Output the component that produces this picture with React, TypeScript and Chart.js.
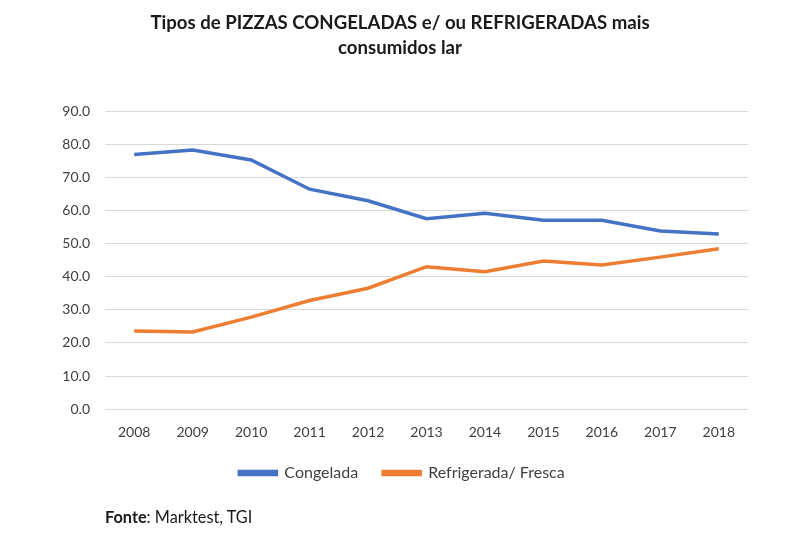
import React, { useEffect, useRef } from "react";
import { Chart, registerables } from "chart.js";

Chart.register(...registerables);

const years = ["2008", "2009", "2010", "2011", "2012", "2013", "2014", "2015", "2016", "2017", "2018"];
const congelada = [76.9, 78.2, 75.2, 66.4, 62.9, 57.5, 59.1, 57.0, 57.0, 53.8, 52.9];
const refrigerada = [23.6, 23.3, 27.8, 32.8, 36.5, 43.0, 41.5, 44.7, 43.5, 45.9, 48.4];
const seriesNames = ["Congelada", "Refrigerada/ Fresca"];
const titleLines = ["Tipos de PIZZAS CONGELADAS e/ ou REFRIGERADAS mais", "consumidos lar"];
const yMin = 0;
const yMax = 90;
const yStep = 10;

const FONT = "Lato, 'Open Sans', sans-serif";

export default function App() {
  const canvasRef = useRef<HTMLCanvasElement | null>(null);

  useEffect(() => {
    if (!canvasRef.current) return;
    const chart = new Chart(canvasRef.current, {
      type: "line",
      data: {
        labels: years,
        datasets: [
          {
            label: seriesNames[0],
            data: congelada,
            borderColor: "#4472C4",
            backgroundColor: "#4472C4",
            borderWidth: 3.5,
            pointRadius: 0,
            tension: 0,
          },
          {
            label: seriesNames[1],
            data: refrigerada,
            borderColor: "#ED7D31",
            backgroundColor: "#ED7D31",
            borderWidth: 3.5,
            pointRadius: 0,
            tension: 0,
          },
        ],
      },
      options: {
        animation: false,
        responsive: false,
        maintainAspectRatio: false,
        layout: { padding: { left: 56, right: 52, top: 111, bottom: 49 } },
        plugins: {
          title: { display: false },
          tooltip: { enabled: false },
          legend: {
            display: true,
            position: "bottom",
            labels: {
              boxWidth: 37,
              boxHeight: 3,
              padding: 25,
              color: "#404040",
              font: { family: FONT, size: 16 },
            },
          },
        },
        scales: {
          x: {
            offset: true,
            grid: { display: false, drawTicks: false },
            border: { display: false },
            afterFit: (scale: any) => {
              scale.height = scale.height - 16;
            },
            ticks: { color: "#404040", font: { family: FONT, size: 14 }, padding: 15 },
          },
          y: {
            min: yMin,
            max: yMax,
            afterFit: (scale: any) => {
              scale.width = 49;
            },
            grid: { color: "#D9D9D9", lineWidth: 1, drawTicks: false },
            border: { display: false },
            ticks: {
              stepSize: yStep,
              color: "#404040",
              font: { family: FONT, size: 14 },
              padding: 15,
              callback: (v: any) => Number(v).toFixed(1),
            },
          },
        },
      },
    });
    return () => chart.destroy();
  }, []);

  return (
    <div style={{ position: "fixed", left: 0, top: 0, width: 800, height: 540, background: "#fff" }}>
      <canvas ref={canvasRef} width={800} height={540} style={{ position: "absolute", left: 0, top: 0 }} />
      <div
        style={{
          position: "absolute",
          left: 0,
          top: 10,
          width: 800,
          textAlign: "center",
          fontFamily: FONT,
          fontWeight: 700,
          fontSize: 18.6,
          lineHeight: "25px",
          color: "#1a1a1a",
        }}
      >
        {titleLines.map((t, i) => (
          <div key={i}>{t}</div>
        ))}
      </div>
      <div
        style={{
          position: "absolute",
          left: 105,
          top: 507,
          fontFamily: FONT,
          fontSize: 16.3,
          lineHeight: "20px",
          color: "#1a1a1a",
        }}
      >
        <b>Fonte</b>: Marktest, TGI
      </div>
    </div>
  );
}
